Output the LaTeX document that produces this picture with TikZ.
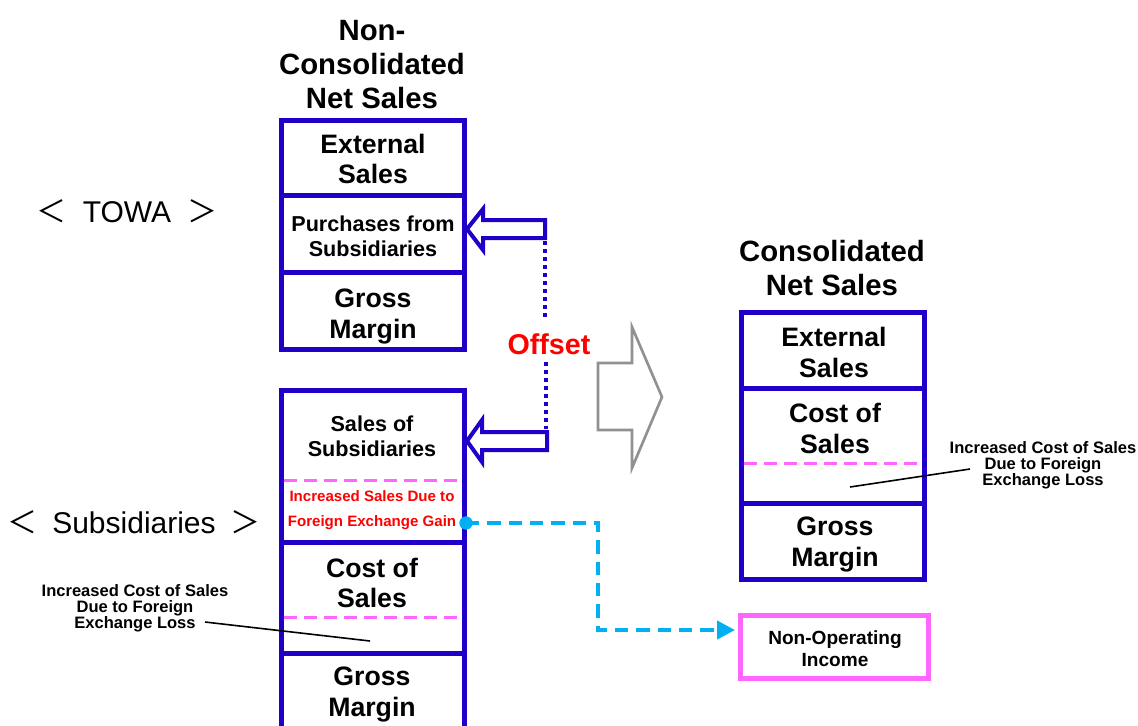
\documentclass[tikz,border=0pt]{standalone}
\usepackage{fontspec}
\setmainfont{Liberation Sans}
\newfontfamily\cjk{Noto Sans CJK JP}
\usetikzlibrary{arrows.meta,calc}
\definecolor{boxblue}{RGB}{32,0,200}
\definecolor{pinkc}{RGB}{255,102,255}
\definecolor{cyanc}{RGB}{0,176,240}
\definecolor{offred}{RGB}{255,0,0}
\definecolor{arrgray}{RGB}{145,145,145}
\begin{document}
\begin{tikzpicture}[x=0.75pt,y=-0.75pt,
  cell/.style={draw=boxblue,line width=3.75pt,minimum width=137.25pt,inner sep=0,outer sep=0},
  txt/.style={font=\bfseries,align=center,inner sep=0},
  big/.style={txt,font=\bfseries\fontsize{20}{23}\selectfont},
  mid/.style={txt,font=\bfseries\fontsize{16.2}{19}\selectfont},
  ttl/.style={txt,font=\bfseries\fontsize{22}{25.5}\selectfont},
  ann/.style={txt,font=\bfseries\fontsize{12.4}{12}\selectfont},
  grp/.style={inner sep=0,font=\fontsize{22.5}{25}\selectfont},
  pinkdash/.style={draw=pinkc,line width=2.25pt,dash pattern=on 10pt off 5pt},
  hollow/.style={draw=boxblue,line width=3pt,fill=white,line join=miter},
  dotline/.style={draw=boxblue,line width=3.5pt,dash pattern=on 3pt off 3pt},
  cyanline/.style={draw=cyanc,line width=3pt,dash pattern=on 10pt off 6pt,-{Triangle[length=13.5pt,width=13.5pt]}},
  leader/.style={draw=black,line width=1.2pt}]
\useasboundingbox (0,0) rectangle (1138,725);
\clip (0,0) rectangle (1138,725);

% titles and group labels
\node[ttl] (t1) at (372,64.5) {Non-\\Consolidated\\Net Sales};
\node[ttl] (t2) at (832,268.5) {Consolidated\\Net Sales};
\node[grp] (towa) at (127,211) {{\cjk ＜}\hspace{12pt}TOWA\hspace{12pt}{\cjk ＞}};
\node[grp] (subs) at (134,522) {{\cjk ＜}\hspace{11pt}Subsidiaries\hspace{11pt}{\cjk ＞}};

% TOWA box
\node[cell,minimum height=56.25pt] (ext1) at (372.5,157.5) {};
\node[cell,minimum height=57.75pt] (pur1) at (372.5,233.5) {};
\node[cell,minimum height=57.75pt] (gm1) at (372.5,310.5) {};
\node[big] (ext1t) at (373,159) {External\\Sales};
\node[mid] (pur1t) at (373,236) {Purchases from\\Subsidiaries};
\node[big] (gm1t) at (373,316.5) {Gross\\Margin};

% Subsidiaries box
\node[cell,minimum height=114pt] (sal2) at (372.5,466) {};
\node[cell,minimum height=83.25pt] (cos2) at (372.5,597.5) {};
\node[cell,minimum height=80.25pt] (gm2) at (372.5,706.5) {};
\draw[pinkdash] (284,480) -- (461,480);
\draw[pinkdash] (284,617) -- (461,617);
\node[mid] (sal2t) at (372,436.5) {Sales of\\Subsidiaries};
\node[txt,text=offred,font=\bfseries\fontsize{11.3}{19}\selectfont] (gain) at (372,510) {Increased Sales Due to\\Foreign Exchange Gain};
\node[big] (cos2t) at (372,583) {Cost of\\Sales};
\node[big] (gm2t) at (372,694.5) {Gross\\Margin};

% Consolidated box
\node[cell,minimum height=57pt] (ext3) at (832.5,350) {};
\node[cell,minimum height=86.25pt] (cos3) at (832.5,445.5) {};
\node[cell,minimum height=57pt] (gm3) at (832.5,541) {};
\draw[pinkdash] (744,463) -- (921,463);
\node[big] (ext3t) at (834,352.5) {External\\Sales};
\node[big] (cos3t) at (835,428.5) {Cost of\\Sales};
\node[big] (gm3t) at (835,544.5) {Gross\\Margin};

% Non-operating income
\node[draw=pinkc,line width=3.75pt,minimum width=141pt,minimum height=47.25pt,inner sep=0] (nonop) at (834.5,647) {};
\node[txt,font=\bfseries\fontsize{14.3}{16.5}\selectfont] (nonopt) at (835,648.5) {Non-Operating\\Income};

% hollow offset arrows
\draw[hollow] (467,229) -- (483,209) -- (483,220) -- (545,220) -- (545,238) -- (483,238) -- (483,250) -- cycle;
\draw[hollow] (467,441) -- (482,420) -- (482,432) -- (547,432) -- (547,450) -- (482,450) -- (482,462) -- cycle;
\coordinate (a1tail) at (545,241);
\coordinate (a2tail) at (546,429);
\node[txt,text=offred,font=\bfseries\fontsize{21.5}{24}\selectfont] (offset) at (549,344) {Offset};
\draw[dotline] (a1tail) -- (545,319);
\draw[dotline] (546,362) -- (a2tail);

% big gray arrow
\draw[draw=arrgray,line width=2pt,fill=white,line join=miter] (598,363) -- (632,363) -- (632,327) -- (662,397) -- (632,468) -- (632,430) -- (598,430) -- cycle;

% cyan connector
\node[circle,fill=cyanc,minimum size=10pt,inner sep=0] (dot) at (466,523) {};
\draw[cyanline] (dot.center) -- (598,523) |- ($(nonop.west)+(-3,-17)$);

% annotations
\node[ann] (annL) at (135,608.5) {Increased Cost of Sales\\Due to Foreign\\Exchange Loss};
\coordinate (annLe) at (205,622);
\coordinate (annLp) at (370,641);
\draw[leader] (annLe) -- (annLp);
\node[ann] (annR) at (1043,465.5) {Increased Cost of Sales\\Due to Foreign\\Exchange Loss};
\coordinate (annRe) at (970,469);
\coordinate (annRp) at (850,487);
\draw[leader] (annRe) -- (annRp);
\end{tikzpicture}
\end{document}
